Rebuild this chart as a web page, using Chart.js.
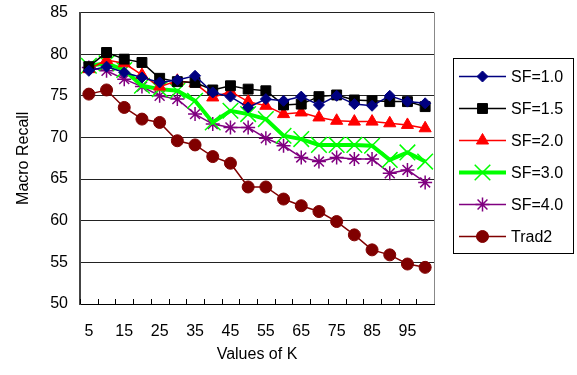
<!DOCTYPE html>
<html>
<head>
<meta charset="utf-8">
<script src="https://cdn.jsdelivr.net/npm/chart.js@4/dist/chart.umd.min.js"></script>
<style>
  html, body { margin: 0; padding: 0; background: #fff; }
</style>
</head>
<body>
<canvas id="myChart" width="577" height="375"></canvas>
<script>
const kValues = [5, 10, 15, 20, 25, 30, 35, 40, 45, 50, 55, 60, 65, 70, 75, 80, 85, 90, 95, 100];
const sf10 = [78.0, 78.5, 77.8, 77.2, 76.6, 76.9, 77.4, 75.4, 74.9, 73.6, 74.6, 74.4, 74.9, 73.9, 75.0, 74.0, 73.8, 75.0, 74.3, 74.1];
const sf15 = [78.5, 80.2, 79.4, 79.0, 77.1, 76.7, 76.6, 75.7, 76.2, 75.8, 75.6, 73.9, 74.0, 74.9, 75.1, 74.5, 74.4, 74.3, 74.3, 73.7];
const sf20 = [78.2, 79.3, 78.9, 77.5, 76.1, 76.8, 76.5, 74.8, 75.5, 74.3, 73.8, 72.8, 73.0, 72.4, 72.0, 71.9, 71.9, 71.7, 71.5, 71.1];
const sf30 = [78.6, 78.9, 78.1, 76.2, 75.8, 75.6, 74.4, 71.8, 73.2, 72.8, 72.2, 70.2, 69.8, 69.1, 69.1, 69.1, 69.0, 67.3, 68.2, 67.1];
const sf40 = [78.4, 78.0, 77.0, 76.1, 75.0, 74.6, 72.8, 71.6, 71.2, 71.2, 69.9, 69.0, 67.6, 67.1, 67.6, 67.4, 67.4, 65.7, 66.1, 64.6];
const trad2 = [75.2, 75.7, 73.6, 72.2, 71.8, 69.6, 69.1, 67.7, 66.9, 64.05, 64.05, 62.6, 61.8, 61.1, 59.9, 58.3, 56.5, 55.9, 54.8, 54.4];

const font = 'Liberation Sans, Arial, sans-serif';

function series(label, data, color, style, radius, lineWidth, pointBorder) {
    return {
        label: label,
        data: data,
        borderColor: color,
        backgroundColor: color,
        borderWidth: lineWidth,
        pointStyle: style,
        pointRadius: radius,
        pointHoverRadius: radius,
        pointBorderWidth: pointBorder,
        pointBackgroundColor: color,
        pointBorderColor: color,
        tension: 0
    };
}

// legend with a frame, line + marker like the original
const boxLegend = {
    id: 'boxLegend',
    afterDraw(chart) {
        const ctx = chart.ctx;
        const area = chart.chartArea;
        const x = chart.scales.x;

        // inward tick marks between categories
        ctx.save();
        ctx.strokeStyle = '#000';
        ctx.lineWidth = 1;
        const n = kValues.length;
        for (let i = 0; i <= n; i++) {
            const px = Math.round(x.left + i * (x.width / n)) + 0.5;
            ctx.beginPath();
            ctx.moveTo(px, area.bottom);
            ctx.lineTo(px, area.bottom - 5);
            ctx.stroke();
        }
        // right border
        ctx.strokeStyle = '#888';
        ctx.beginPath();
        ctx.moveTo(area.right + 0.5, area.top);
        ctx.lineTo(area.right + 0.5, area.bottom);
        ctx.stroke();

        // legend frame
        const lx = 453, ly = 58, lw = 120, lh = 195;
        ctx.strokeStyle = '#000';
        ctx.strokeRect(lx + 0.5, ly + 0.5, lw, lh);

        chart.data.datasets.forEach((ds, i) => {
            const y = ly + 18.5 + i * 32;
            ctx.strokeStyle = ds.borderColor;
            ctx.lineWidth = ds.borderWidth;
            ctx.beginPath();
            ctx.moveTo(459, y);
            ctx.lineTo(506, y);
            ctx.stroke();
            ctx.fillStyle = ds.borderColor;
            ctx.strokeStyle = ds.borderColor;
            ctx.lineWidth = ds.pointBorderWidth;
            Chart.helpers.drawPoint(ctx, {
                pointStyle: ds.pointStyle,
                radius: ds.pointRadius,
                rotation: 0,
                borderWidth: ds.pointBorderWidth
            }, 482.5, y);
            ctx.fillStyle = '#000';
            ctx.font = '16px ' + font;
            ctx.textBaseline = 'middle';
            ctx.textAlign = 'left';
            ctx.fillText(ds.label, 511, y + 1);
        });
        ctx.restore();
    }
};

let myChart = document.getElementById('myChart').getContext('2d');

let recallChart = new Chart(myChart, {
    type: 'line',
    data: {
        labels: kValues,
        datasets: [
            series('SF=1.0', sf10, '#000080', 'rectRot', 5.5, 1.5, 1),
            series('SF=1.5', sf15, '#000000', 'rect', 7, 1.5, 1),
            series('SF=2.0', sf20, '#ff0000', 'triangle', 7, 1.5, 1),
            series('SF=3.0', sf30, '#00ff00', 'crossRot', 11, 4, 1.5),
            series('SF=4.0', sf40, '#800080', 'star', 7, 1.5, 1.5),
            series('Trad2', trad2, '#800000', 'circle', 6, 1.5, 1)
        ]
    },
    options: {
        responsive: false,
        animation: false,
        layout: {
            padding: { left: 0, top: 12, right: 143, bottom: 0 }
        },
        plugins: {
            legend: { display: false },
            tooltip: { enabled: false }
        },
        scales: {
            x: {
                offset: true,
                grid: { display: false, offset: true },
                border: { color: '#000', width: 1 },
                ticks: {
                    autoSkip: false,
                    maxRotation: 0,
                    color: '#000',
                    padding: 10,
                    font: { family: font, size: 16 },
                    callback: function (value, index) {
                        return index % 2 === 0 ? this.getLabelForValue(value) : '';
                    }
                },
                title: {
                    display: true,
                    text: 'Values of K',
                    color: '#000',
                    font: { family: font, size: 16 },
                    padding: { top: 4, bottom: 11 }
                },
                afterFit: function (scale) { scale.height = 71; }
            },
            y: {
                min: 50,
                max: 85,
                ticks: {
                    stepSize: 5,
                    color: '#000',
                    padding: 12,
                    font: { family: font, size: 16 }
                },
                grid: { color: '#222', lineWidth: 1, tickLength: 0 },
                border: { color: '#444', width: 2 },
                title: {
                    display: true,
                    text: 'Macro Recall',
                    color: '#000',
                    font: { family: font, size: 16 },
                    padding: { top: 14, bottom: 0 }
                },
                afterFit: function (scale) {
                    scale.width = 80;
                    scale.paddingTop = 0;
                    scale.paddingBottom = 0;
                }
            }
        }
    },
    plugins: [boxLegend]
});
</script>
</body>
</html>
